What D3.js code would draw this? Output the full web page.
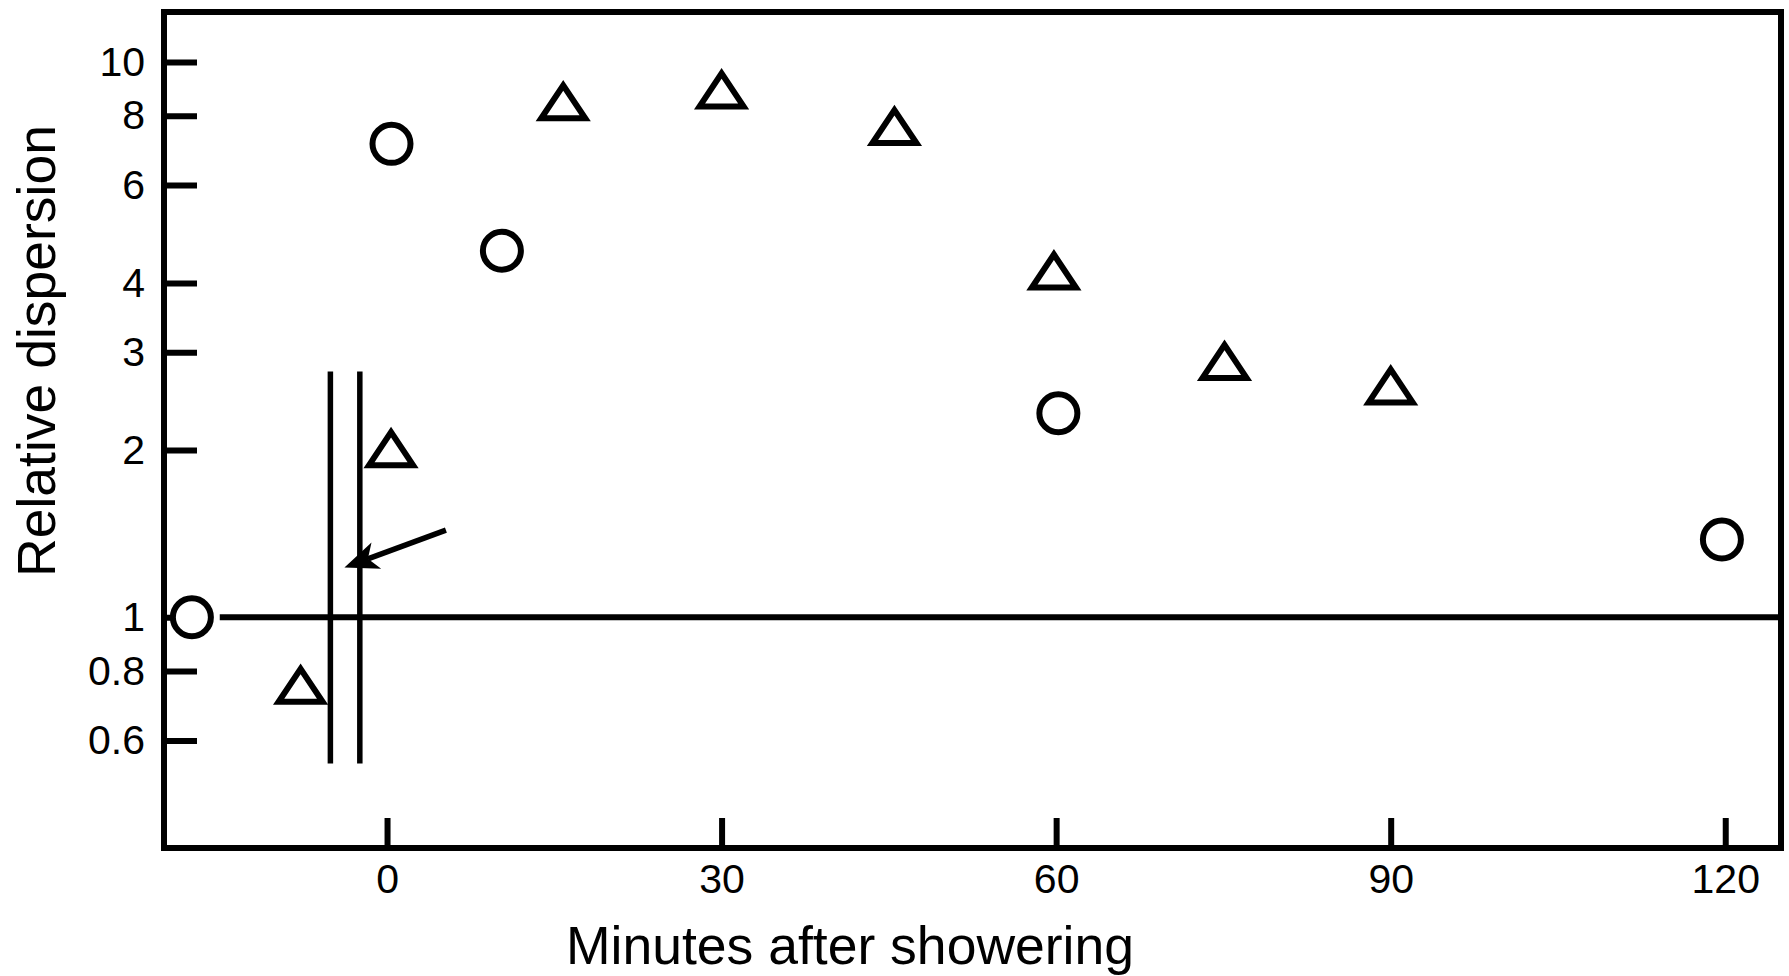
<!DOCTYPE html>
<html>
<head>
<meta charset="utf-8">
<script src="https://cdn.jsdelivr.net/npm/d3@7"></script>
<style>
  html, body { margin: 0; padding: 0; background: #fff; }
  svg { display: block; }
  text { font-family: "Liberation Sans", Arial, sans-serif; fill: #000; }
</style>
</head>
<body>
<svg id="chart" width="1789" height="976"></svg>
<script>
// ---- data ----
const circleMinutes = [-17.5, 0.4, 10.3, 60.2, 119.7];
const circleValues  = [1.00, 7.12, 4.57, 2.33, 1.38];
const triangleMinutes = [-7.75, 0.36, 15.8, 30.0, 45.5, 59.8, 75.1, 90.0];
const triangleValues  = [0.757, 2.02, 8.51, 8.94, 7.68, 4.22, 2.90, 2.62];
const xTickValues = [0, 30, 60, 90, 120];
const yTickValues = [0.6, 0.8, 1, 2, 3, 4, 6, 8, 10];
const baselineValue = 1;
const baselineStart = -15;
const breakMinutes = [-5.08, -2.44];
const breakRange = [0.545, 2.77];
const arrowFrom = [5.28, 1.435];
const arrowTo = [-3.82, 1.229];
const xTitle = "Minutes after showering";
const yTitle = "Relative dispersion";

// ---- layout ----
const plotLeft = 164, plotRight = 1781, plotTop = 12, plotBottom = 848;
const svg = d3.select("#chart");
const x = d3.scaleLinear().domain([-20, 125]).range([plotLeft, plotRight]);
const y = d3.scaleLog().domain([0.384, 12.3]).range([plotBottom, plotTop]);
const tickFont = 41;

// axes (ticks pointing inward)
const yAxis = d3.axisLeft(y).tickValues(yTickValues).tickFormat(d3.format("~g"))
  .tickSizeInner(-33).tickSizeOuter(0).tickPadding(19);
const gy = svg.append("g").attr("transform", `translate(${plotLeft},0)`).call(yAxis);
gy.select(".domain").remove();
gy.selectAll(".tick line").attr("stroke", "#000").attr("stroke-width", 6);
gy.selectAll(".tick text").attr("font-size", tickFont).attr("font-family", "Liberation Sans, Arial, sans-serif").attr("fill", "#000");

const xAxis = d3.axisBottom(x).tickValues(xTickValues).tickFormat(d3.format("d"))
  .tickSizeInner(-30).tickSizeOuter(0).tickPadding(16);
const gx = svg.append("g").attr("transform", `translate(0,${plotBottom})`).call(xAxis);
gx.select(".domain").remove();
gx.selectAll(".tick line").attr("stroke", "#000").attr("stroke-width", 6);
gx.selectAll(".tick text").attr("font-size", tickFont).attr("font-family", "Liberation Sans, Arial, sans-serif").attr("fill", "#000");

// frame
svg.append("rect")
  .attr("x", plotLeft).attr("y", plotTop)
  .attr("width", plotRight - plotLeft).attr("height", plotBottom - plotTop)
  .attr("fill", "none").attr("stroke", "#000").attr("stroke-width", 6);

// reference line at 1
svg.append("line")
  .attr("x1", x(baselineStart)).attr("x2", plotRight)
  .attr("y1", y(baselineValue)).attr("y2", y(baselineValue))
  .attr("stroke", "#000").attr("stroke-width", 6);

// break lines
svg.selectAll("line.brk").data(breakMinutes).enter().append("line")
  .attr("class", "brk")
  .attr("x1", d => x(d)).attr("x2", d => x(d))
  .attr("y1", y(breakRange[1])).attr("y2", y(breakRange[0]))
  .attr("stroke", "#000").attr("stroke-width", 5.5);

// arrow
{
  const p0 = [x(arrowFrom[0]), y(arrowFrom[1])];
  const p1 = [x(arrowTo[0]), y(arrowTo[1])];
  const dx = p1[0] - p0[0], dy = p1[1] - p0[1];
  const len = Math.hypot(dx, dy);
  const u = [dx / len, dy / len];
  const n = [-u[1], u[0]];
  const L = 34, hw = 14, notch = 9;
  const back = [p1[0] - u[0] * L, p1[1] - u[1] * L];
  const mid = [p1[0] - u[0] * (L - notch), p1[1] - u[1] * (L - notch)];
  svg.append("line")
    .attr("x1", p0[0]).attr("y1", p0[1]).attr("x2", mid[0]).attr("y2", mid[1])
    .attr("stroke", "#000").attr("stroke-width", 5.5);
  const pts = [p1, [back[0] + n[0] * hw, back[1] + n[1] * hw], mid, [back[0] - n[0] * hw, back[1] - n[1] * hw]];
  svg.append("path").attr("d", "M" + pts.map(p => p.join(",")).join("L") + "Z").attr("fill", "#000");
}

// circles
const circleData = circleMinutes.map((m, i) => ({ m, v: circleValues[i] }));
svg.selectAll("circle.pt").data(circleData).enter().append("circle")
  .attr("class", "pt")
  .attr("cx", d => x(d.m)).attr("cy", d => y(d.v)).attr("r", 19)
  .attr("fill", "#fff").attr("stroke", "#000").attr("stroke-width", 6);

// triangles
const triData = triangleMinutes.map((m, i) => ({ m, v: triangleValues[i] }));
const tw = 44, th = 33;
svg.selectAll("path.tri").data(triData).enter().append("path")
  .attr("class", "tri")
  .attr("transform", d => `translate(${x(d.m)},${y(d.v) + 1})`)
  .attr("d", `M0,${-th / 2}L${tw / 2},${th / 2}L${-tw / 2},${th / 2}Z`)
  .attr("fill", "#fff").attr("stroke", "#000").attr("stroke-width", 6)
  .attr("stroke-linejoin", "miter");

// titles
svg.append("text")
  .attr("x", 850).attr("y", 964)
  .attr("text-anchor", "middle").attr("font-size", 53.5)
  .text(xTitle);
svg.append("text")
  .attr("transform", "translate(55,351) rotate(-90)")
  .attr("text-anchor", "middle").attr("font-size", 53.5)
  .text(yTitle);
</script>
</body>
</html>
